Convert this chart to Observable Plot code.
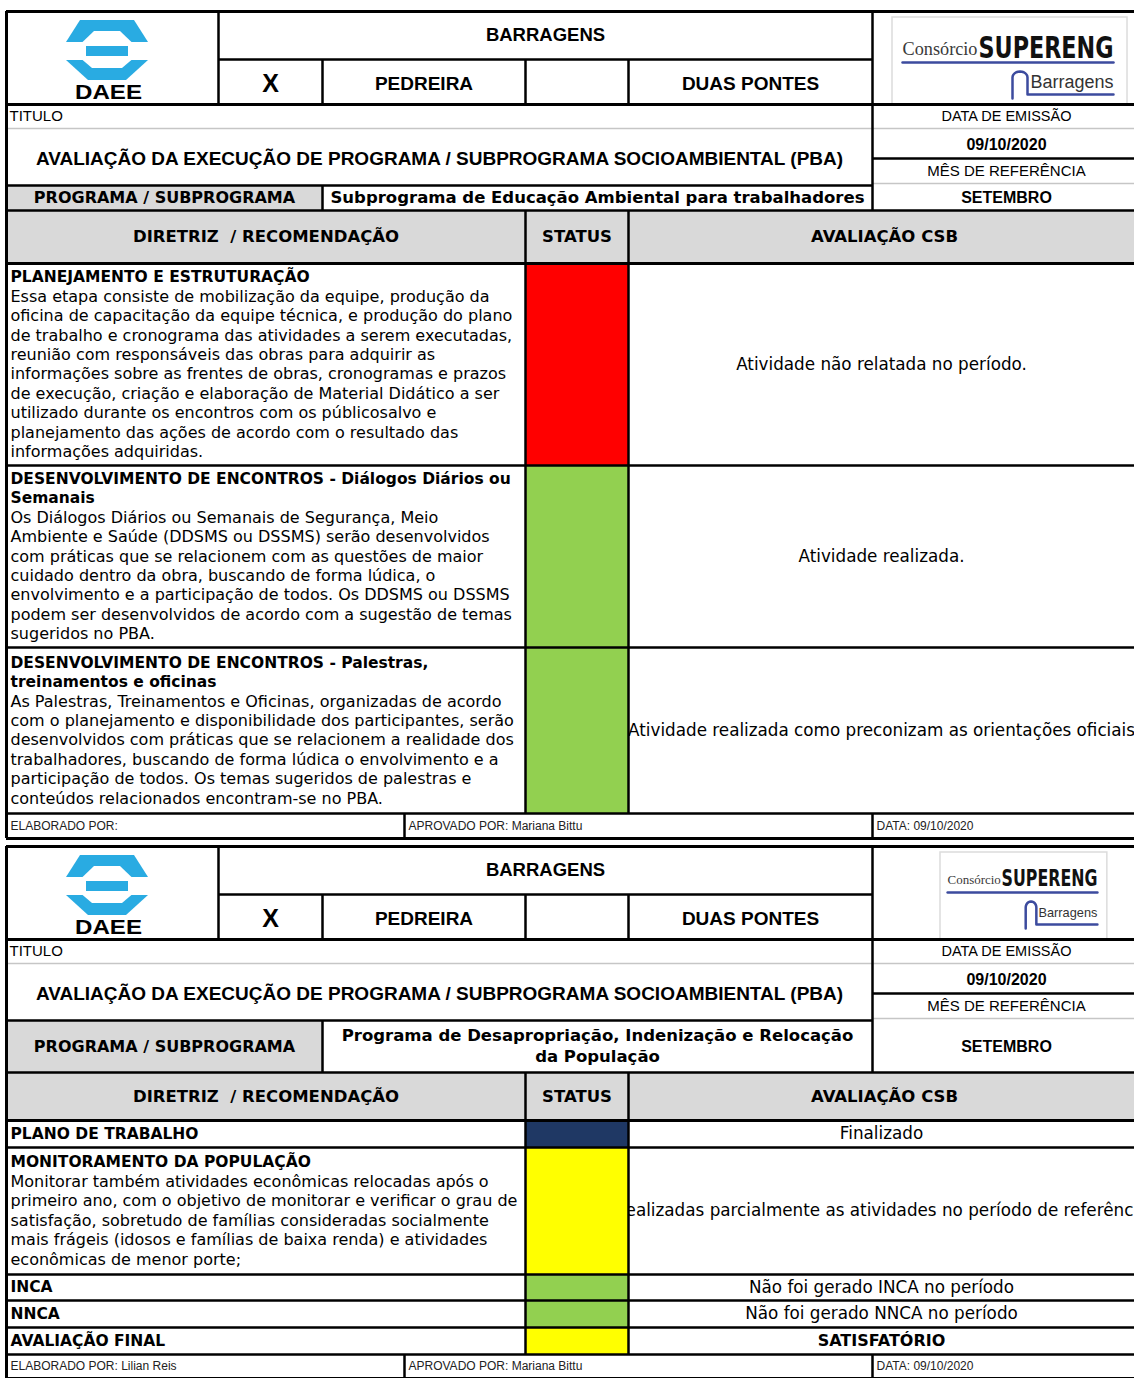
<!DOCTYPE html>
<html lang="pt-BR">
<head>
<meta charset="utf-8">
<script src="https://cdn.jsdelivr.net/npm/d3@7"></script>
<script src="https://cdn.jsdelivr.net/npm/@observablehq/plot@0.6"></script>
<style>
html, body { margin: 0; padding: 0; background: #fff; overflow: hidden; }
#sheet svg { display: block; max-width: none; }
</style>
</head>
<body>
<div id="sheet"></div>
<script>
// ---------------- DATA ----------------
const damTitle = "BARRAGENS";
const damOptions = ["X", "PEDREIRA", "", "DUAS PONTES"];
const titleLabel = "TITULO";
const sheetTitle = "AVALIAÇÃO DA EXECUÇÃO DE PROGRAMA / SUBPROGRAMA SOCIOAMBIENTAL (PBA)";
const issueLabel = "DATA DE EMISSÃO";
const issueDate = "09/10/2020";
const monthLabel = "MÊS DE REFERÊNCIA";
const refMonth = "SETEMBRO";
const programLabel = "PROGRAMA / SUBPROGRAMA";
const columnHeaders = ["DIRETRIZ  / RECOMENDAÇÃO", "STATUS", "AVALIAÇÃO CSB"];
const footerLabels = ["ELABORADO POR:", "APROVADO POR:", "DATA:"];
const logoNames = ["DAEE", "Consórcio", "SUPERENG", "Barragens"];

const statusNames = ["Não realizado", "Realizado", "Finalizado", "Parcial"];
const statusColors = ["#ff0000", "#92d050", "#1f3864", "#ffff00"];

const programNames = [
  ["Subprograma de Educação Ambiental para trabalhadores"],
  ["Programa de Desapropriação, Indenização e Relocação", "da População"]
];

const titles1 = [
  ["PLANEJAMENTO E ESTRUTURAÇÃO"],
  ["DESENVOLVIMENTO DE ENCONTROS - Diálogos Diários ou", "Semanais"],
  ["DESENVOLVIMENTO DE ENCONTROS - Palestras,", "treinamentos e oficinas"]
];
const bodies1 = [
  ["Essa etapa consiste de mobilização da equipe, produção da",
   "oficina de capacitação da equipe técnica, e produção do plano",
   "de trabalho e cronograma das atividades a serem executadas,",
   "reunião com responsáveis das obras para adquirir as",
   "informações sobre as frentes de obras, cronogramas e prazos",
   "de execução, criação e elaboração de Material Didático a ser",
   "utilizado durante os encontros com os públicosalvo e",
   "planejamento das ações de acordo com o resultado das",
   "informações adquiridas."],
  ["Os Diálogos Diários ou Semanais de Segurança, Meio",
   "Ambiente e Saúde (DDSMS ou DSSMS) serão desenvolvidos",
   "com práticas que se relacionem com as questões de maior",
   "cuidado dentro da obra, buscando de forma lúdica, o",
   "envolvimento e a participação de todos. Os DDSMS ou DSSMS",
   "podem ser desenvolvidos de acordo com a sugestão de temas",
   "sugeridos no PBA."],
  ["As Palestras, Treinamentos e Oficinas, organizadas de acordo",
   "com o planejamento e disponibilidade dos participantes, serão",
   "desenvolvidos com práticas que se relacionem a realidade dos",
   "trabalhadores, buscando de forma lúdica o envolvimento e a",
   "participação de todos. Os temas sugeridos de palestras e",
   "conteúdos relacionados encontram-se no PBA."]
];
const statuses1 = ["Não realizado", "Realizado", "Realizado"];
const evaluations1 = [
  "Atividade não relatada no período.",
  "Atividade realizada.",
  "Atividade realizada como preconizam as orientações oficiais"
];

const titles2 = [
  ["PLANO DE TRABALHO"],
  ["MONITORAMENTO DA POPULAÇÃO"],
  ["INCA"],
  ["NNCA"],
  ["AVALIAÇÃO FINAL"]
];
const bodies2 = [
  [],
  ["Monitorar também atividades econômicas relocadas após o",
   "primeiro ano, com o objetivo de monitorar e verificar o grau de",
   "satisfação, sobretudo de famílias consideradas socialmente",
   "mais frágeis (idosos e famílias de baixa renda) e atividades",
   "econômicas de menor porte;"],
  [], [], []
];
const statuses2 = ["Finalizado", "Parcial", "Realizado", "Realizado", "Parcial"];
const evaluations2 = [
  "Finalizado",
  "Realizadas parcialmente as atividades no período de referência",
  "Não foi gerado INCA no período",
  "Não foi gerado NNCA no período",
  "SATISFATÓRIO"
];

const preparedBy = ["", "Lilian Reis"];
const approvedBy = ["Mariana Bittu", "Mariana Bittu"];
const reportDates = ["09/10/2020", "09/10/2020"];

// ---------------- LAYOUT / STYLE ----------------
const W = 1134, H = 1378;
const FONT_A = "'Liberation Sans', Arial, sans-serif";
const FONT_V = "'DejaVu Sans', Verdana, sans-serif";
const FONT_S = "'Liberation Serif', 'Times New Roman', serif";
const FONT_N = "'Liberation Sans Narrow', 'DejaVu Sans Condensed', sans-serif";
const GRAY_FILL = "#d9d9d9", GRAY_LINE = "#c6c6c6", BLUE = "#29abe2", NAVY = "#3c4b9e";
const COLS = {L: 6, logo: 218, x: 322, mid: 525, stat: 628, right: 872, R: 1140, foot: 404};
const HEAD = {band: 48, block: 93, titleRow: 24, mainRow: 57, dateRow: 30, monthRow: 25};
const LINE_H = 19.4;

const sections = [
  {program: programNames[0], titles: titles1, bodies: bodies1, statuses: statuses1, evaluations: evaluations1,
   top: 11, programH: 25, headerH: 53, rowH: [202, 182, 166], footH: 25, logo: {x0: 892, sx: 1, dy: 0}},
  {program: programNames[1], titles: titles2, bodies: bodies2, statuses: statuses2, evaluations: evaluations2,
   top: 846, programH: 52, headerH: 48, rowH: [27, 127, 26, 27, 27], footH: 24, logo: {x0: 940, sx: 0.71, dy: -5}}
];

// ---------------- BUILD TABLES ----------------
const fills = [], statusCells = [], blackH = [], grayH = [], blackV = [], texts = [];
const blueAreas = [], whiteAreas = [], blueBars = [], logoLines = [], logoBoxes = [];

function addText(o) {
  texts.push(Object.assign({layer: "top", anchor: "middle", weight: "normal", family: FONT_A, color: "#000", size: 15}, o));
}

function trapezoid(target, id, cx, yWide, hwWide, yNarrow, hwNarrow) {
  target.push({id, x: cx - hwWide, y1: yWide, y2: yWide});
  target.push({id, x: cx - hwNarrow, y1: yWide, y2: yNarrow});
  target.push({id, x: cx + hwNarrow, y1: yWide, y2: yNarrow});
  target.push({id, x: cx + hwWide, y1: yWide, y2: yWide});
}

function daeeLogo(k, top) {
  const cx = (COLS.L + COLS.logo) / 2 - 5;
  trapezoid(blueAreas, `t${k}`, cx, top + 31, 41, top + 9, 27);
  trapezoid(whiteAreas, `ti${k}`, cx, top + 31.5, 25, top + 20, 13);
  blueBars.push({x1: cx - 21, x2: cx + 21, y1: top + 35, y2: top + 45});
  trapezoid(blueAreas, `b${k}`, cx, top + 49, 41, top + 69, 19);
  trapezoid(whiteAreas, `bi${k}`, cx, top + 48.5, 25, top + 57, 15);
  addText({x: cx + 1, y: top + 81, text: logoNames[0], size: 21, weight: "bold", family: FONT_A, fit: 67});
}

function superengLogo(k, top, L) {
  const X = v => L.x0 + v * L.sx, Y = v => top + v + L.dy;
  logoBoxes.push({x1: X(0), x2: X(235), y1: top + 6, y2: top + 93});
  addText({x: X(10), y: Y(38), text: logoNames[1], size: 18 * Math.max(L.sx, 0.75), family: FONT_S, color: "#3a3a3a", anchor: "start", fit: 75 * L.sx});
  addText({x: X(86), y: Y(37), text: logoNames[2], size: 30 * Math.max(L.sx, 0.75), family: FONT_N, weight: "bold", color: "#111", anchor: "start", fit: 135 * L.sx});
  logoLines.push({id: `u${k}`, x: X(10), y: Y(51)}, {id: `u${k}`, x: X(221), y: Y(51)});
  const r = 7.5 * L.sx, ax = X(127.5), ay = Y(66);
  logoLines.push({id: `a${k}`, x: X(120), y: Y(87)});
  for (let a = 180; a >= 0; a -= 15) {
    const t = a * Math.PI / 180;
    logoLines.push({id: `a${k}`, x: ax + r * Math.cos(t), y: ay - 6 * Math.sin(t)});
  }
  logoLines.push({id: `a${k}`, x: X(135), y: Y(83)}, {id: `a${k}`, x: X(221), y: Y(83)});
  addText({x: X(138), y: Y(71), text: logoNames[3], size: 18 * Math.max(L.sx, 0.75), family: FONT_A, color: "#333", anchor: "start", fit: 83 * L.sx});
}

sections.forEach((s, k) => {
  const C = COLS, top = s.top;
  const yBand = top + HEAD.band, yBlock = top + HEAD.block;
  const yTit = yBlock + HEAD.titleRow, yMain = yTit + HEAD.mainRow;
  const yDate = yTit + HEAD.dateRow, yMonth = yDate + HEAD.monthRow;
  const yProg = yMain + s.programH, yHead = yProg + s.headerH;
  const rowTops = [];
  let y = yHead;
  for (const h of s.rowH) { rowTops.push(y); y += h; }
  const yFoot = y, yEnd = y + s.footH;
  const RC = (C.right + C.R) / 2;

  // gray fills
  fills.push({x1: C.L, x2: C.x, y1: yMain, y2: yProg});
  fills.push({x1: C.L, x2: C.R, y1: yProg, y2: yHead});

  // horizontal rules
  blackH.push({y: top, x1: C.L, x2: C.R, w: 3});
  blackH.push({y: yBand, x1: C.logo, x2: C.right, w: 2.5});
  blackH.push({y: yBlock, x1: C.L, x2: C.R, w: 3});
  grayH.push({y: yTit, x1: C.L, x2: C.R, w: 1.5});
  blackH.push({y: yDate, x1: C.right, x2: C.R, w: 2.5});
  grayH.push({y: yMonth, x1: C.right, x2: C.R, w: 1.5});
  blackH.push({y: yMain, x1: C.L, x2: C.right, w: 2.5});
  blackH.push({y: yProg, x1: C.L, x2: C.R, w: 2.5});
  blackH.push({y: yHead, x1: C.L, x2: C.R, w: 3});
  rowTops.forEach((t, i) => blackH.push({y: t + s.rowH[i], x1: C.L, x2: C.R, w: 2.5}));
  blackH.push({y: yEnd, x1: C.L, x2: C.R, w: 3});

  // vertical rules
  blackV.push({x: C.L, y1: top, y2: yEnd, w: 3});
  blackV.push({x: C.logo, y1: top, y2: yBlock, w: 2.5});
  for (const xx of [C.x, C.mid, C.stat]) blackV.push({x: xx, y1: yBand, y2: yBlock, w: 2.5});
  blackV.push({x: C.x, y1: yMain, y2: yProg, w: 2.5});
  blackV.push({x: C.mid, y1: yProg, y2: yFoot, w: 2.5});
  blackV.push({x: C.stat, y1: yProg, y2: yFoot, w: 2.5});
  blackV.push({x: C.right, y1: top, y2: yProg, w: 2.5});
  blackV.push({x: C.foot, y1: yFoot, y2: yEnd, w: 2.5});
  blackV.push({x: C.right, y1: yFoot, y2: yEnd, w: 2.5});

  // header block texts
  addText({x: (C.logo + C.right) / 2, y: (top + yBand) / 2, text: damTitle, size: 18.5, weight: "bold"});
  const cells = [C.logo, C.x, C.mid, C.stat, C.right];
  damOptions.forEach((t, i) => {
    if (t) addText({x: (cells[i] + cells[i + 1]) / 2, y: (yBand + yBlock) / 2 + 1.5, text: t, size: t === "X" ? 25 : 19, weight: "bold"});
  });
  addText({x: C.L + 3, y: (yBlock + yTit) / 2, text: titleLabel, size: 15, anchor: "start"});
  addText({x: RC, y: (yBlock + yTit) / 2, text: issueLabel, size: 14.5});
  addText({x: (C.L + C.right) / 2, y: (yTit + yMain) / 2 + 1.5, text: sheetTitle, size: 19, weight: "bold"});
  addText({x: RC, y: (yTit + yDate) / 2 + 1.5, text: issueDate, size: 16, weight: "bold"});
  addText({x: RC, y: (yDate + yMonth) / 2, text: monthLabel, size: 15});

  // program row
  const pm = (yMain + yProg) / 2;
  addText({x: (C.L + C.x) / 2, y: pm, text: programLabel, size: 16, weight: "bold", family: FONT_V});
  s.program.forEach((t, j) => addText({x: (C.x + C.right) / 2, y: pm + (j - (s.program.length - 1) / 2) * 21, text: t, size: 16.5, weight: "bold", family: FONT_V}));
  addText({x: RC, y: pm, text: refMonth, size: 16, weight: "bold"});

  // column headers
  const hm = (yProg + yHead) / 2;
  const hx = [(C.L + C.mid) / 2, (C.mid + C.stat) / 2, (C.stat + C.R) / 2];
  columnHeaders.forEach((t, i) => addText({x: hx[i], y: hm, text: t, size: 16.5, weight: "bold", family: FONT_V}));

  // body rows
  s.titles.forEach((tl, i) => {
    const h = s.rowH[i], cy = rowTops[i] + h / 2;
    const lines = [...tl.map(t => ({t, b: true})), ...s.bodies[i].map(t => ({t, b: false}))];
    lines.forEach((l, j) => addText({
      x: C.L + 4, y: cy + (j - (lines.length - 1) / 2) * LINE_H, text: l.t,
      size: l.b ? 15.5 : 16, weight: l.b ? "bold" : "normal", family: FONT_V, anchor: "start"
    }));
    statusCells.push({x1: C.mid, x2: C.stat, y1: rowTops[i], y2: rowTops[i] + h, status: s.statuses[i]});
    const final = tl[0] === "AVALIAÇÃO FINAL";
    addText({layer: "under", x: (C.stat + C.R) / 2 - 3, y: cy, text: s.evaluations[i], size: final ? 16 : 16.8,
             weight: final ? "bold" : "normal", family: FONT_V});
  });

  // footer
  const fm = (yFoot + yEnd) / 2;
  addText({x: C.L + 4, y: fm, text: footerLabels[0] + (preparedBy[k] ? " " + preparedBy[k] : ""), size: 12, anchor: "start", color: "#222"});
  addText({x: C.foot + 4, y: fm, text: footerLabels[1] + " " + approvedBy[k], size: 12, anchor: "start", color: "#222"});
  addText({x: C.right + 4, y: fm, text: footerLabels[2] + " " + reportDates[k], size: 12, anchor: "start", color: "#222"});

  // logos
  daeeLogo(k, top);
  superengLogo(k, top, s.logo);
});

// ---------------- MARKS ----------------
const groups = d3.groups(texts, d => [d.layer, d.family, d.weight, d.anchor, d.color].join("|"));
function textMarks(layer) {
  return groups.map(([key, data], gi) => ({key, data, gi}))
    .filter(g => g.key.startsWith(layer + "|"))
    .map(({data, gi}) => Plot.text(data, {
      x: "x", y: "y", text: "text",
      fontSize: d => d.size,
      fontFamily: data[0].family, fontWeight: data[0].weight, textAnchor: data[0].anchor,
      fill: data[0].color, ariaDescription: "txt-" + gi
    }));
}

const svg = Plot.plot({
  width: W, height: H, margin: 0,
  x: {type: "identity", axis: null},
  y: {type: "identity", axis: null},
  color: {domain: statusNames, range: statusColors},
  style: {background: "white"},
  marks: [
    Plot.rect(fills, {x1: "x1", x2: "x2", y1: "y1", y2: "y2", fill: GRAY_FILL}),
    ...textMarks("under"),
    Plot.rect(statusCells, {x1: "x1", x2: "x2", y1: "y1", y2: "y2", fill: "status"}),
    Plot.rect(logoBoxes, {x1: "x1", x2: "x2", y1: "y1", y2: "y2", fill: "none", stroke: "#dcdcdc", strokeWidth: 1.5}),
    Plot.area(blueAreas, {x1: "x", y1: "y1", y2: "y2", z: "id", fill: BLUE, curve: "linear"}),
    Plot.area(whiteAreas, {x1: "x", y1: "y1", y2: "y2", z: "id", fill: "white", curve: "linear"}),
    Plot.rect(blueBars, {x1: "x1", x2: "x2", y1: "y1", y2: "y2", fill: BLUE}),
    Plot.line(logoLines, {x: "x", y: "y", z: "id", stroke: NAVY, strokeWidth: 2.5, curve: "linear"}),
    Plot.ruleY(grayH, {y: "y", x1: "x1", x2: "x2", stroke: GRAY_LINE, strokeWidth: d => d.w}),
    Plot.ruleY(blackH, {y: "y", x1: "x1", x2: "x2", stroke: "black", strokeWidth: d => d.w}),
    Plot.ruleX(blackV, {x: "x", y1: "y1", y2: "y2", stroke: "black", strokeWidth: d => d.w}),
    ...textMarks("top")
  ]
});
document.getElementById("sheet").append(svg);

// fit logo lettering to the measured widths
groups.forEach(([key, data], gi) => {
  if (!data.some(d => d.fit)) return;
  const nodes = svg.querySelectorAll(`g[aria-description="txt-${gi}"] text`);
  nodes.forEach((node, i) => {
    const d = data[i];
    if (d && d.fit) {
      node.setAttribute("textLength", d.fit);
      node.setAttribute("lengthAdjust", "spacingAndGlyphs");
    }
  });
});
</script>
</body>
</html>
